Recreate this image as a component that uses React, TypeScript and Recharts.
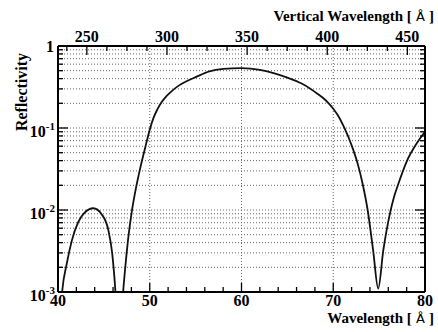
import React from "react"
import { CartesianGrid, Line, LineChart, ReferenceLine, XAxis, YAxis } from "recharts"

// wavelength [Å] and reflectivity
const wavelength = [
  40.3, 40.47, 40.95, 41.5, 42.2, 42.9, 43.85, 44.75, 45.5, 45.9, 46.2, 46.35, 46.7, 47.0,
  47.1, 47.4, 47.7, 48.0, 48.5, 48.9, 49.5, 50.0, 50.4, 50.8, 51.3, 51.8, 52.4, 53.2, 54.0,
  55.0, 56.5, 58.0, 60.0, 62.0, 63.5, 65.0, 66.5, 67.5, 68.2, 68.9, 69.5, 70.0, 70.5, 71.1,
  72.0, 72.7, 73.2, 73.75, 74.35, 74.9, 75.45, 76.2, 76.6, 77.1, 78.0, 79.1, 80.0,
]
const reflectivity = [
  0.0006, 0.00105, 0.0022, 0.0042, 0.0071, 0.0093, 0.0105, 0.0089, 0.0056, 0.003, 0.00126,
  0.0007, 0.0002, 0.0007, 0.001, 0.0024, 0.005, 0.0089, 0.0186, 0.0302, 0.0575, 0.0955,
  0.132, 0.166, 0.207, 0.243, 0.282, 0.331, 0.372, 0.417, 0.49, 0.525, 0.537, 0.513, 0.468,
  0.412, 0.351, 0.302, 0.266, 0.232, 0.2, 0.172, 0.143, 0.107, 0.0617, 0.0355, 0.0209, 0.01,
  0.0032, 0.0011, 0.0032, 0.0093, 0.0141, 0.0209, 0.039, 0.065, 0.09,
]

const wavelengthTicks = [40, 42, 44, 46, 48, 50, 52, 54, 56, 58, 60, 62, 64, 66, 68, 70, 72, 74, 76, 78, 80]
const gridWavelengths = [50, 60, 70]
const verticalTicks = [
  237.5, 250, 262.5, 275, 287.5, 300, 312.5, 325, 337.5, 350, 362.5, 375, 387.5, 400, 412.5,
  425, 437.5, 450,
]
const reflectivityTicks = [
  0.001, 0.002, 0.003, 0.004, 0.005, 0.006, 0.007, 0.008, 0.009,
  0.01, 0.02, 0.03, 0.04, 0.05, 0.06, 0.07, 0.08, 0.09,
  0.1, 0.2, 0.3, 0.4, 0.5, 0.6, 0.7, 0.8, 0.9, 1,
]

// vertical wavelength at the two ends of the wavelength axis
const VERT_MIN = 232
const VERT_MAX = 461
const WL_MIN = 40
const WL_MAX = 80
const toWavelength = (v: number) => WL_MIN + ((v - VERT_MIN) * (WL_MAX - WL_MIN)) / (VERT_MAX - VERT_MIN)
const toVertical = (w: number) => VERT_MIN + ((w - WL_MIN) * (VERT_MAX - VERT_MIN)) / (WL_MAX - WL_MIN)

const data = wavelength.map((w, i) => ({ wavelength: w, reflectivity: reflectivity[i] }))

const FONT = "'Liberation Serif', 'Times New Roman', serif"
const GRID = "#666"

const isDecade = (v: number) => Math.abs(Math.log10(v) - Math.round(Math.log10(v))) < 1e-6

const BottomTick = (props: any) => {
  const { x, y, payload } = props
  const major = payload.value % 10 === 0
  return (
    <g>
      <line x1={x} x2={x} y1={y} y2={y - (major ? 9 : 5)} stroke="#000" strokeWidth={1.3} />
      {major && (
        <text x={x} y={y + 14} textAnchor="middle" fontFamily={FONT} fontWeight="bold" fontSize={16} fill="#000">
          {payload.value}
        </text>
      )}
    </g>
  )
}

const TopTick = (props: any) => {
  const { x, y, payload } = props
  const v = Math.round(toVertical(payload.value) * 2) / 2
  const major = v % 50 === 0
  return (
    <g>
      <line x1={x} x2={x} y1={y} y2={y + (major ? 9 : 5)} stroke="#000" strokeWidth={1.3} />
      {major && (
        <text x={x} y={y - 4} textAnchor="middle" fontFamily={FONT} fontWeight="bold" fontSize={16} fill="#000">
          {v}
        </text>
      )}
    </g>
  )
}

const LeftTick = (props: any) => {
  const { x, y, payload } = props
  const v = payload.value
  const major = isDecade(v)
  const exp = Math.round(Math.log10(v))
  return (
    <g>
      <line x1={x} x2={x + (major ? 10 : 5)} y1={y} y2={y} stroke="#000" strokeWidth={1.3} />
      {major && exp === 0 && (
        <text x={x - 4} y={y + 6} textAnchor="end" fontFamily={FONT} fontWeight="bold" fontSize={16} fill="#000">
          1
        </text>
      )}
      {major && exp !== 0 && (
        <text x={x - 3} y={y + 9} textAnchor="end" fontFamily={FONT} fontWeight="bold" fontSize={16} fill="#000">
          <tspan>10</tspan>
          <tspan dy={-7} fontSize={11}>{exp}</tspan>
        </text>
      )}
    </g>
  )
}

const RightTick = (props: any) => {
  const { x, y, payload } = props
  const major = isDecade(payload.value)
  return <line x1={x} x2={x - (major ? 10 : 5)} y1={y} y2={y} stroke="#000" strokeWidth={1.3} />
}

export default function App() {
  return (
    <div style={{ position: "absolute", left: 0, top: 0, width: 438, height: 332, background: "#fff" }}>
      <LineChart width={438} height={332} data={data} margin={{ top: 0, right: 0, bottom: 0, left: 0 }}>
        <CartesianGrid vertical={false} stroke={GRID} strokeDasharray="1 2" />
        {gridWavelengths.map((w) => (
          <ReferenceLine key={w} x={w} stroke={GRID} strokeDasharray="1 2" />
        ))}
        <XAxis
          dataKey="wavelength"
          type="number"
          domain={[WL_MIN, WL_MAX]}
          allowDataOverflow
          ticks={wavelengthTicks}
          interval={0}
          height={40}
          tickSize={0}
          tickMargin={0}
          tickLine={false}
          axisLine={{ stroke: "#000", strokeWidth: 2 }}
          tick={<BottomTick />}
        />
        <XAxis
          xAxisId="top"
          dataKey="wavelength"
          orientation="top"
          type="number"
          domain={[WL_MIN, WL_MAX]}
          allowDataOverflow
          ticks={verticalTicks.map(toWavelength)}
          interval={0}
          height={46}
          tickSize={0}
          tickMargin={0}
          tickLine={false}
          axisLine={{ stroke: "#000", strokeWidth: 2 }}
          tick={<TopTick />}
        />
        <YAxis
          type="number"
          scale="log"
          domain={[0.001, 1]}
          allowDataOverflow
          ticks={reflectivityTicks}
          interval={0}
          width={58}
          tickSize={0}
          tickMargin={0}
          tickLine={false}
          axisLine={{ stroke: "#000", strokeWidth: 2 }}
          tick={<LeftTick />}
        />
        <YAxis
          yAxisId="right"
          orientation="right"
          type="number"
          scale="log"
          domain={[0.001, 1]}
          allowDataOverflow
          ticks={reflectivityTicks}
          interval={0}
          width={13}
          tickSize={0}
          tickMargin={0}
          tickLine={false}
          axisLine={{ stroke: "#000", strokeWidth: 2 }}
          tick={<RightTick />}
        />
        <Line
          dataKey="reflectivity"
          type="monotone"
          stroke="#111"
          strokeWidth={1.8}
          dot={false}
          isAnimationActive={false}
        />
      </LineChart>
      <svg width={438} height={332} style={{ position: "absolute", left: 0, top: 0, pointerEvents: "none" }}>
        <text x={434} y={21} textAnchor="end" fontFamily={FONT} fontWeight="bold" fontSize={15} fill="#000">
          Vertical Wavelength [
          <tspan fontFamily="'DejaVu Sans', sans-serif" fontWeight="normal" fontSize={13}> Å </tspan>]
        </text>
        <text x={434} y={323} textAnchor="end" fontFamily={FONT} fontWeight="bold" fontSize={15} fill="#000">
          Wavelength [
          <tspan fontFamily="'DejaVu Sans', sans-serif" fontWeight="normal" fontSize={13}> Å </tspan>]
        </text>
        <text
          x={27}
          y={92}
          textAnchor="middle"
          transform="rotate(-90, 27, 92)"
          fontFamily={FONT}
          fontWeight="bold"
          fontSize={16}
          fill="#000"
        >
          Reflectivity
        </text>
      </svg>
    </div>
  )
}
